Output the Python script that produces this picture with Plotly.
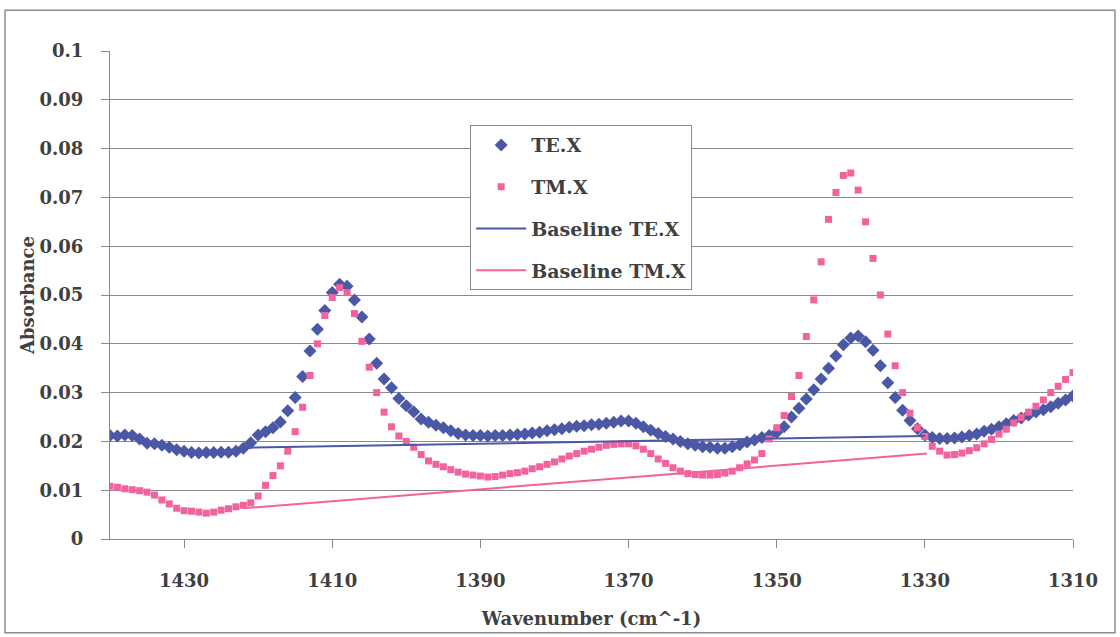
import plotly.graph_objects as go

wavenumber = [
    1440, 1439, 1438, 1437, 1436, 1435, 1434, 1433, 1432, 1431,
    1430, 1429, 1428, 1427, 1426, 1425, 1424, 1423, 1422, 1421,
    1420, 1419, 1418, 1417, 1416, 1415, 1414, 1413, 1412, 1411,
    1410, 1409, 1408, 1407, 1406, 1405, 1404, 1403, 1402, 1401,
    1400, 1399, 1398, 1397, 1396, 1395, 1394, 1393, 1392, 1391,
    1390, 1389, 1388, 1387, 1386, 1385, 1384, 1383, 1382, 1381,
    1380, 1379, 1378, 1377, 1376, 1375, 1374, 1373, 1372, 1371,
    1370, 1369, 1368, 1367, 1366, 1365, 1364, 1363, 1362, 1361,
    1360, 1359, 1358, 1357, 1356, 1355, 1354, 1353, 1352, 1351,
    1350, 1349, 1348, 1347, 1346, 1345, 1344, 1343, 1342, 1341,
    1340, 1339, 1338, 1337, 1336, 1335, 1334, 1333, 1332, 1331,
    1330, 1329, 1328, 1327, 1326, 1325, 1324, 1323, 1322, 1321,
    1320, 1319, 1318, 1317, 1316, 1315, 1314, 1313, 1312, 1311,
    1310,
]

te_x = [
    0.0212, 0.0211, 0.0213, 0.0212, 0.0205, 0.0196, 0.0195, 0.0192, 0.0188, 0.0183,
    0.0180, 0.0177, 0.0176, 0.0177, 0.0177, 0.0178, 0.0178, 0.0180, 0.0186, 0.0197,
    0.0213, 0.0220, 0.0228, 0.0240, 0.0263, 0.0290, 0.0333, 0.0385, 0.0430, 0.0468,
    0.0505, 0.0522, 0.0518, 0.0490, 0.0455, 0.0410, 0.0360, 0.0328, 0.0310, 0.0288,
    0.0273, 0.0261, 0.0246, 0.0239, 0.0233, 0.0228, 0.0222, 0.0216, 0.0213, 0.0212,
    0.0212, 0.0211, 0.0212, 0.0212, 0.0213, 0.0214, 0.0215, 0.0217, 0.0219, 0.0222,
    0.0224, 0.0226, 0.0229, 0.0231, 0.0232, 0.0234, 0.0235, 0.0237, 0.0239, 0.0242,
    0.0242, 0.0237, 0.0230, 0.0223, 0.0216, 0.0210, 0.0205, 0.0200, 0.0195, 0.0192,
    0.0189, 0.0188, 0.0186, 0.0186, 0.0189, 0.0193, 0.0199, 0.0203, 0.0208, 0.0212,
    0.0218, 0.0230, 0.0250, 0.0268, 0.0287, 0.0306, 0.0328, 0.0350, 0.0375, 0.0398,
    0.0412, 0.0416, 0.0404, 0.0387, 0.0355, 0.0320, 0.0290, 0.0264, 0.0243, 0.0226,
    0.0213, 0.0208, 0.0206, 0.0206, 0.0207, 0.0209, 0.0212, 0.0215, 0.0221, 0.0225,
    0.0230, 0.0236, 0.0243, 0.0248, 0.0254, 0.0260, 0.0265, 0.0271, 0.0278, 0.0285,
    0.0293,
]

tm_x = [
    0.0108, 0.0106, 0.0103, 0.0101, 0.0099, 0.0096, 0.0090, 0.0080, 0.0072, 0.0063,
    0.0058, 0.0057, 0.0055, 0.0053, 0.0055, 0.0059, 0.0062, 0.0066, 0.0069, 0.0074,
    0.0088, 0.0110, 0.0130, 0.0150, 0.0180, 0.0220, 0.0270, 0.0335, 0.0400, 0.0458,
    0.0495, 0.0515, 0.0505, 0.0462, 0.0405, 0.0352, 0.0300, 0.0260, 0.0230, 0.0211,
    0.0200, 0.0188, 0.0173, 0.0160, 0.0153, 0.0148, 0.0142, 0.0137, 0.0133, 0.0131,
    0.0129, 0.0127, 0.0128, 0.0131, 0.0134, 0.0136, 0.0139, 0.0144, 0.0148, 0.0153,
    0.0158, 0.0164, 0.0170, 0.0175, 0.0180, 0.0184, 0.0188, 0.0192, 0.0194, 0.0195,
    0.0195, 0.0191, 0.0184, 0.0175, 0.0164, 0.0155, 0.0146, 0.0139, 0.0134, 0.0132,
    0.0131, 0.0131, 0.0132, 0.0135, 0.0139, 0.0146, 0.0154, 0.0162, 0.0175, 0.0205,
    0.0228, 0.0253, 0.0292, 0.0335, 0.0415, 0.0490, 0.0568, 0.0655, 0.0710, 0.0745,
    0.0750, 0.0715, 0.0650, 0.0575, 0.0500, 0.0420, 0.0355, 0.0300, 0.0258, 0.0228,
    0.0210, 0.0190, 0.0180, 0.0172, 0.0173, 0.0176, 0.0181, 0.0187, 0.0195, 0.0204,
    0.0215, 0.0225, 0.0238, 0.0249, 0.0260, 0.0272, 0.0285, 0.0300, 0.0313, 0.0327,
    0.0341,
]

baseline_te_x = [1422, 1376, 1330]
baseline_te_y = [0.0187, 0.0199, 0.0211]
baseline_tm_x = [1422, 1376, 1329.7]
baseline_tm_y = [0.0063, 0.0119, 0.0175]

x_ticks = [1430, 1410, 1390, 1370, 1350, 1330, 1310]

TE_COLOR = "#4B58A6"
TM_COLOR = "#F2639E"
GRID = "#8a8a8a"
FONT = "DejaVu Serif"
TEXT = "#404040"

fig = go.Figure()
fig.add_trace(go.Scatter(
    x=wavenumber, y=te_x, mode="markers", name="TE.X", legendgroup="a",
    marker=dict(symbol="diamond", size=10, color=TE_COLOR),
))
fig.add_trace(go.Scatter(
    x=wavenumber, y=tm_x, mode="markers", name="TM.X", legendgroup="b",
    marker=dict(symbol="square", size=7, color=TM_COLOR),
))
fig.add_trace(go.Scatter(
    x=baseline_te_x, y=baseline_te_y, mode="lines", name="Baseline TE.X",
    legendgroup="c", line=dict(color=TE_COLOR, width=2),
))
fig.add_trace(go.Scatter(
    x=baseline_tm_x, y=baseline_tm_y, mode="lines", name="Baseline TM.X",
    legendgroup="d", line=dict(color=TM_COLOR, width=2),
))

fig.update_layout(
    width=1120, height=637,
    margin=dict(l=110, r=47, t=51, b=96),
    paper_bgcolor="white", plot_bgcolor="white",
    font=dict(family=FONT, size=18, color=TEXT),
    showlegend=True,
    legend=dict(
        x=0.374, y=0.848, xanchor="left", yanchor="top",
        bgcolor="white", bordercolor=GRID, borderwidth=1,
        font=dict(family=FONT, size=19, color=TEXT, weight="bold"),
        tracegroupgap=14, itemwidth=50,
    ),
    xaxis=dict(
        range=[1440, 1310], tickvals=x_ticks, ticks="outside", ticklen=8,
        tickcolor=GRID, showline=True, linecolor=GRID, linewidth=1,
        showgrid=False, zeroline=False, ticklabelstandoff=17,
        tickfont=dict(family=FONT, size=18, color=TEXT, weight="bold"),
        title=dict(text="Wavenumber (cm^-1)", standoff=22,
                   font=dict(family=FONT, size=18, color=TEXT, weight="bold")),
    ),
    yaxis=dict(
        range=[0, 0.1], dtick=0.01, ticks="outside", ticklen=8,
        tickcolor=GRID, showline=True, linecolor=GRID, linewidth=1,
        showgrid=True, gridcolor=GRID, gridwidth=1, zeroline=False,
        ticklabelstandoff=14,
        tickfont=dict(family=FONT, size=18, color=TEXT, weight="bold"),
        title=dict(text="Absorbance", standoff=0,
                   font=dict(family=FONT, size=18, color=TEXT, weight="bold")),
    ),
    shapes=[dict(
        type="rect", xref="paper", yref="paper",
        x0=-0.109, x1=1.0436, y0=-0.192, y1=1.0837,
        line=dict(color="#8c8c8c", width=1.5), layer="below",
    )],
)

fig.write_html("out.html")
